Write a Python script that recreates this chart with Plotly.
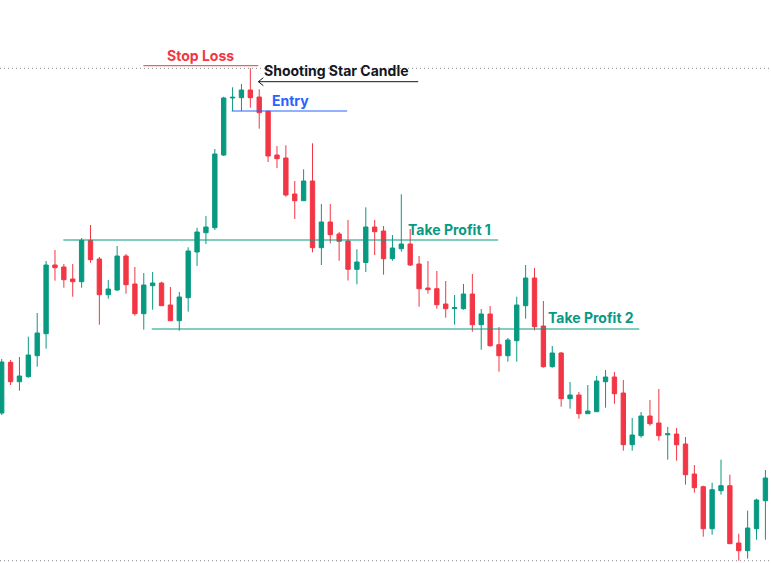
"""
Shooting star reversal setup on a candlestick chart
"""
# Imports ---------------------------------------------------------------------
import plotly.graph_objects as go

# Data ------------------------------------------------------------------------
opens = [
    187, 237.7, 218.3, 223.3, 244.3, 266.3, 335, 333, 321, 318.3,
    359.7, 341, 305.3, 310, 344, 316, 286.3, 314.3, 317, 295,
    279.3, 302.3, 348, 367.3, 372.3, 445, 502, 502.3, 510, 503,
    488.7, 445, 442, 406, 399.3, 419, 352.3, 378, 366, 359,
    330.7, 337.5, 373, 369, 341.3, 351.3, 356, 336, 312, 311.3,
    296, 291.5, 291.3, 306, 275.3, 286, 255.3, 244.3, 259.3, 294.3,
    322, 274, 233.3, 247, 201.3, 205, 186.3, 188.3, 218.3, 223,
    207, 155.3, 164.3, 184, 177, 165.2, 166, 156, 126, 113.3,
    71.3, 109.3, 114.3, 57, 49.3, 71.3, 99.3, 122,
]
highs = [
    241, 240, 243, 263.3, 287, 339, 350, 336, 336, 362,
    375, 343, 320, 354, 346, 333, 327, 328, 318.3, 313,
    308, 352.7, 372.3, 384, 451, 503.3, 512.7, 516, 531.7, 510.7,
    489.3, 454, 454.7, 419, 430.7, 456.7, 396, 396, 368, 380,
    350.7, 392.7, 380, 374, 365, 405.7, 371, 344, 339, 329,
    319, 305, 316, 326, 291, 294, 273, 262, 303.3, 335,
    332, 299, 254, 248, 218, 208, 215, 224, 230, 228,
    220, 182, 188, 200, 211, 173, 172, 163, 135, 114.3,
    117.3, 140.3, 125.3, 66.3, 89.3, 101.3, 130, 126,
]
lows = [
    185, 215, 209.3, 222.3, 233.3, 251.3, 319.3, 312.3, 303.3, 312.3,
    337.3, 275.3, 301.3, 309.3, 306.3, 284.3, 270.3, 290.3, 294.3, 279.3,
    269.3, 288.3, 334, 356, 370, 444, 489, 489, 492.3, 471.3,
    438, 432, 403.3, 381, 399.3, 347.7, 335, 356.7, 339.3, 319.5,
    315.7, 328, 345, 325.3, 339.3, 348.3, 334, 293.3, 306.3, 291.3,
    282.3, 275.3, 290.3, 268.3, 250.3, 253.3, 228.3, 238.3, 238.3, 281.3,
    269.7, 232.3, 232.3, 193.3, 191.3, 181.3, 186.3, 188.3, 192.3, 196.3,
    149.3, 149.3, 162.3, 174.3, 159.3, 140.3, 139.3, 115.3, 107.3, 63.3,
    65.3, 105.3, 56.3, 39.3, 41.3, 60.3, 60.3, 95,
]
closes = [
    238, 218.3, 224, 245, 267, 335, 332.3, 320.3, 318.3, 359.7,
    340.3, 305.3, 311, 344, 315.3, 286.3, 315, 317, 294.3, 279.3,
    303, 349, 368, 373, 446, 502, 502.7, 510, 502.3, 487.3,
    444, 441.3, 405, 399.3, 419, 352.3, 378, 365.3, 358.7, 330.7,
    338, 373, 368.3, 341.3, 352, 356, 335, 311.3, 310.3, 295.3,
    291.3, 292.5, 306, 275.3, 286, 254.3, 244.3, 260, 295, 322,
    273.3, 233.3, 247, 201.3, 205, 186.3, 189, 219, 223, 206.3,
    155.3, 165, 184, 176.3, 164.3, 166.2, 155.3, 125.3, 112.3, 71.3,
    110.3, 114.3, 56.3, 49.3, 72, 100, 122, 100,
]
bars = list(range(len(closes)))

# trade levels (price) and the bar spans they are drawn over
level_names = ["Stop Loss", "Entry", "Take Profit 1", "Take Profit 2"]
level_prices = [534.3, 489, 360, 271]
level_starts = [15.95, 25.9, 6.94, 16.9]
level_ends = [28.9, 38.9, 55.9, 71.8]

UP = "#089981"
DOWN = "#F23645"
BLUE = "#2962FF"
INK = "#131722"
FONT = "Inter"
FONT_SIZE = 14

# Figure ----------------------------------------------------------------------
fig = go.Figure()
fig.add_trace(
    go.Candlestick(
        x=bars, open=opens, high=highs, low=lows, close=closes,
        increasing=dict(line=dict(color=UP, width=1), fillcolor=UP),
        decreasing=dict(line=dict(color=DOWN, width=1), fillcolor=DOWN),
        whiskerwidth=0, hoverinfo="skip", showlegend=False,
    )
)

# dotted high / low of the visible range
for level in (max(highs), min(lows)):
    fig.add_shape(
        type="line", xref="paper", x0=0, x1=1, y0=level, y1=level,
        line=dict(color="#868993", width=1, dash="1px,3px"), layer="below",
    )

level_colors = [DOWN, BLUE, UP, UP]
for price, x0, x1, color in zip(level_prices, level_starts, level_ends, level_colors):
    fig.add_shape(
        type="line", x0=x0, x1=x1, y0=price, y1=price,
        line=dict(color=color, width=1),
    )

# labels
label_style = dict(showarrow=False, yanchor="middle", borderpad=0)
fig.add_annotation(x=22.4, y=545, text="<b>Stop Loss</b>", xanchor="center",
                   font=dict(color=DOWN, size=FONT_SIZE, family=FONT), **label_style)
fig.add_annotation(x=30.3, y=499.3, text="<b>Entry</b>", xanchor="left",
                   font=dict(color=BLUE, size=FONT_SIZE, family=FONT), **label_style)
fig.add_annotation(x=45.6, y=371, text="<b>Take Profit 1</b>", xanchor="left",
                   font=dict(color=UP, size=FONT_SIZE, family=FONT), **label_style)
fig.add_annotation(x=61.4, y=282.3, text="<b>Take Profit 2</b>", xanchor="left",
                   font=dict(color=UP, size=FONT_SIZE, family=FONT), **label_style)
fig.add_annotation(x=29.45, y=529.3, text="<b>Shooting Star Candle</b>", xanchor="left",
                   font=dict(color=INK, size=FONT_SIZE, family=FONT), **label_style)

# pointer to the shooting star
arrow_y = 518.3
fig.add_shape(type="line", x0=28.9, x1=46.9, y0=arrow_y, y1=arrow_y,
              line=dict(color=INK, width=1))
fig.add_shape(
    type="path", xsizemode="pixel", ysizemode="pixel",
    xanchor=28.9, yanchor=arrow_y, path="M 5,4 L 0,0 L 5,-4",
    line=dict(color=INK, width=1),
)

fig.update_layout(
    width=771, height=563,
    margin=dict(l=0, r=0, t=0, b=0),
    paper_bgcolor="white", plot_bgcolor="white",
    boxgap=0.3,
    hovermode=False,
    xaxis=dict(range=[-0.19, 86.63], visible=False, rangeslider=dict(visible=False)),
    yaxis=dict(range=[37, 600], visible=False),
)

# the page's default body margin would push the chart 8px right and down
fig.write_html(
    "out.html",
    config={"displayModeBar": False},
    post_script="document.body.style.margin = '0';",
)
